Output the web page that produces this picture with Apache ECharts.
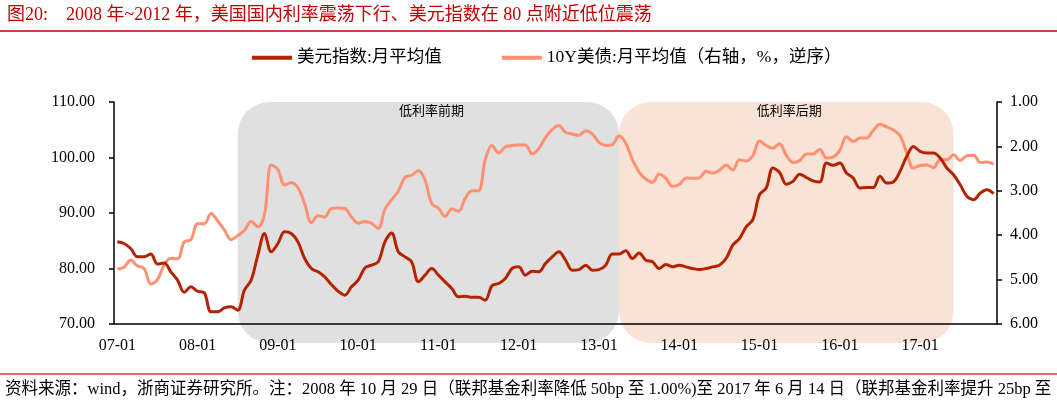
<!DOCTYPE html>
<html>
<head>
<meta charset="utf-8">
<script src="https://cdn.jsdelivr.net/npm/echarts@6/dist/echarts.min.js"></script>
<style>
html, body { margin: 0; padding: 0; background: #fff; }
#chart { width: 1057px; height: 406px; }
</style>
</head>
<body>
<div id="chart"></div>
<script>
// 美元指数 月平均值, 2007-01 .. 2017-12
var dxy = [
    84.8, 84.5, 83.6, 82.1, 82.1, 82.6, 80.8, 81.0, 79.4, 77.9, 75.7, 76.7,
    75.9, 75.6, 72.2, 72.2, 72.9, 73.1, 72.5, 76.1, 77.9, 82.4, 86.3, 83.0,
    84.5, 86.6, 86.3, 84.8, 81.8, 80.0, 79.4, 78.5, 77.1, 75.9, 75.2, 76.7,
    77.9, 80.1, 80.6, 81.2, 84.8, 86.4, 83.0, 82.1, 81.2, 77.6, 78.8, 80.0,
    78.8, 77.6, 76.4, 74.9, 75.0, 74.8, 74.8, 74.3, 76.9, 77.3, 78.2, 80.0,
    80.3, 78.8, 79.5, 79.4, 80.9, 82.1, 83.0, 81.5, 79.7, 79.8, 80.6, 79.7,
    79.8, 80.6, 82.6, 82.6, 83.2, 81.8, 82.8, 81.5, 81.2, 80.0, 80.7, 80.3,
    80.6, 80.3, 80.0, 79.8, 80.0, 80.3, 80.6, 81.8, 84.2, 85.4, 87.5, 88.8,
    93.3, 94.5, 98.1, 97.3, 95.2, 95.7, 97.0, 96.4, 95.8, 95.6, 99.0, 98.6,
    99.0, 97.2, 96.3, 94.5, 94.6, 94.6, 96.6, 95.4, 95.6, 97.5, 100.2, 102.0,
    101.1, 100.8, 100.8, 99.9, 98.1, 96.9, 95.1, 93.0, 92.4, 93.6, 94.2, 93.5
];

// 10Y美债 月平均值 (%), 2007-01 .. 2017-12
var ust10 = [
    4.76, 4.72, 4.56, 4.69, 4.75, 5.10, 5.00, 4.67, 4.52, 4.53, 4.15, 4.10,
    3.74, 3.74, 3.51, 3.68, 3.88, 4.10, 4.01, 3.89, 3.69, 3.81, 3.53, 2.42,
    2.52, 2.87, 2.82, 2.93, 3.29, 3.72, 3.56, 3.59, 3.40, 3.39, 3.40, 3.59,
    3.73, 3.69, 3.73, 3.85, 3.42, 3.20, 3.01, 2.70, 2.65, 2.54, 2.76, 3.29,
    3.39, 3.58, 3.41, 3.46, 3.17, 3.00, 3.00, 2.30, 1.98, 2.15, 2.01, 1.98,
    1.97, 1.97, 2.17, 2.05, 1.80, 1.62, 1.53, 1.68, 1.72, 1.75, 1.65, 1.72,
    1.91, 1.98, 1.96, 1.76, 1.93, 2.30, 2.58, 2.74, 2.81, 2.62, 2.72, 2.90,
    2.86, 2.71, 2.72, 2.71, 2.56, 2.60, 2.54, 2.42, 2.53, 2.30, 2.33, 2.21,
    1.88, 1.98, 2.04, 1.94, 2.20, 2.36, 2.32, 2.17, 2.17, 2.07, 2.26, 2.24,
    2.09, 1.78, 1.89, 1.81, 1.81, 1.64, 1.50, 1.56, 1.63, 1.76, 2.14, 2.49,
    2.43, 2.42, 2.48, 2.30, 2.30, 2.19, 2.32, 2.21, 2.20, 2.36, 2.35, 2.40
];

// months 07-01 .. 17-12
var months = [];
for (var yr = 7; yr <= 17; yr++) {
    for (var mo = 1; mo <= 12; mo++) {
        months.push((yr < 10 ? '0' : '') + yr + '-' + (mo < 10 ? '0' : '') + mo);
    }
}

// shaded periods: [first month, last month, label]
var periodEarly = ['08-07', '13-04', '低利率前期'];
var periodLate = ['13-04', '17-06', '低利率后期'];

var leftTicks = { min: 70, max: 110, step: 10 };
var rightTicks = { min: 1, max: 6, step: 1 };

var serif = '"Liberation Serif", "Noto Sans CJK SC", serif';
var darkRed = '#b42300';
var salmon = '#ff9072';
var titleRed = '#c00000';

var chart = echarts.init(document.getElementById('chart'));

var option = {
    animation: false,
    backgroundColor: '#fff',
    textStyle: { fontFamily: serif },
    legend: {
        left: 247,
        top: 44,
        itemGap: 60,
        itemWidth: 40,
        itemHeight: 4,
        icon: 'rect',
        textStyle: { fontSize: 17.5, color: '#000', fontFamily: serif },
        data: ['美元指数:月平均值', '10Y美债:月平均值（右轴，%，逆序）']
    },
    grid: {
        left: 114,
        right: 60,
        top: 102,
        bottom: 82,
        containLabel: false
    },
    xAxis: {
        type: 'category',
        data: months,
        boundaryGap: true,
        axisLine: { lineStyle: { color: '#000', width: 1.5 } },
        axisTick: { interval: 11, length: 5, lineStyle: { color: '#000', width: 1.5 } },
        axisLabel: {
            interval: 11,
            margin: 14,
            fontSize: 16,
            color: '#000',
            fontFamily: serif
        },
        splitLine: { show: false }
    },
    yAxis: [
        {
            type: 'value',
            min: leftTicks.min,
            max: leftTicks.max,
            interval: leftTicks.step,
            axisLine: { show: true, lineStyle: { color: '#000', width: 1.5 } },
            axisTick: { show: true, length: 5, lineStyle: { color: '#000', width: 1.5 } },
            axisLabel: {
                margin: 19,
                fontSize: 16,
                color: '#000',
                fontFamily: serif,
                formatter: function (v) { return v.toFixed(2); }
            },
            splitLine: { show: false }
        },
        {
            type: 'value',
            position: 'right',
            inverse: true,
            min: rightTicks.min,
            max: rightTicks.max,
            interval: rightTicks.step,
            axisLine: { show: true, lineStyle: { color: '#000', width: 1.5 } },
            axisTick: { show: true, length: 5, lineStyle: { color: '#000', width: 1.5 } },
            axisLabel: {
                margin: 13,
                fontSize: 16,
                color: '#000',
                fontFamily: serif,
                formatter: function (v) { return v.toFixed(2); }
            },
            splitLine: { show: false }
        }
    ],
    series: [
        {
            name: '美元指数:月平均值',
            type: 'line',
            yAxisIndex: 0,
            data: dxy,
            smooth: 0.35,
            symbol: 'none',
            z: 4,
            lineStyle: { color: darkRed, width: 3 },
            itemStyle: { color: darkRed }
        },
        {
            name: '10Y美债:月平均值（右轴，%，逆序）',
            type: 'line',
            yAxisIndex: 1,
            data: ust10,
            smooth: 0.35,
            symbol: 'none',
            z: 3,
            lineStyle: { color: salmon, width: 3 },
            itemStyle: { color: salmon }
        }
    ]
};

chart.setOption(option);

// shaded rounded boxes, placed through the category axis
function shadeBox(period, fill) {
    var x0 = chart.convertToPixel({ xAxisIndex: 0 }, period[0]);
    var x1 = chart.convertToPixel({ xAxisIndex: 0 }, period[1]);
    var yTop = chart.convertToPixel({ yAxisIndex: 0 }, leftTicks.max);
    var yBot = chart.convertToPixel({ yAxisIndex: 0 }, leftTicks.min) + 19;
    return [
        {
            type: 'rect',
            z: -10,
            silent: true,
            shape: { x: x0, y: yTop, width: x1 - x0, height: yBot - yTop, r: 32 },
            style: { fill: fill }
        },
        {
            type: 'text',
            z: 1,
            silent: true,
            x: (x0 + x1) / 2 + 3,
            y: yTop + 10,
            style: {
                text: period[2],
                fill: '#000',
                font: '13px ' + serif,
                textAlign: 'center',
                textVerticalAlign: 'middle'
            }
        }
    ];
}

var graphics = [
    {
        type: 'text',
        left: 7,
        top: 6,
        style: {
            text: '图20:    2008 年~2012 年，美国国内利率震荡下行、美元指数在 80 点附近低位震荡',
            fill: titleRed,
            font: '18px ' + serif
        }
    },
    {
        type: 'line',
        shape: { x1: 0, y1: 31, x2: 1057, y2: 31 },
        style: { stroke: titleRed, lineWidth: 1.5 }
    },
    {
        type: 'line',
        shape: { x1: 0, y1: 374, x2: 1057, y2: 374 },
        style: { stroke: '#d23c3c', lineWidth: 1.5 }
    },
    {
        type: 'text',
        left: 5,
        top: 381,
        style: {
            text: '资料来源：wind，浙商证券研究所。注：2008 年 10 月 29 日（联邦基金利率降低 50bp 至 1.00%)至 2017 年 6 月 14 日（联邦基金利率提升 25bp 至',
            fill: '#000',
            font: '16.5px ' + serif
        }
    }
];
graphics = graphics.concat(shadeBox(periodEarly, '#e0e0e0'), shadeBox(periodLate, '#f9e3d6'));

chart.setOption({ graphic: graphics });
</script>
</body>
</html>
